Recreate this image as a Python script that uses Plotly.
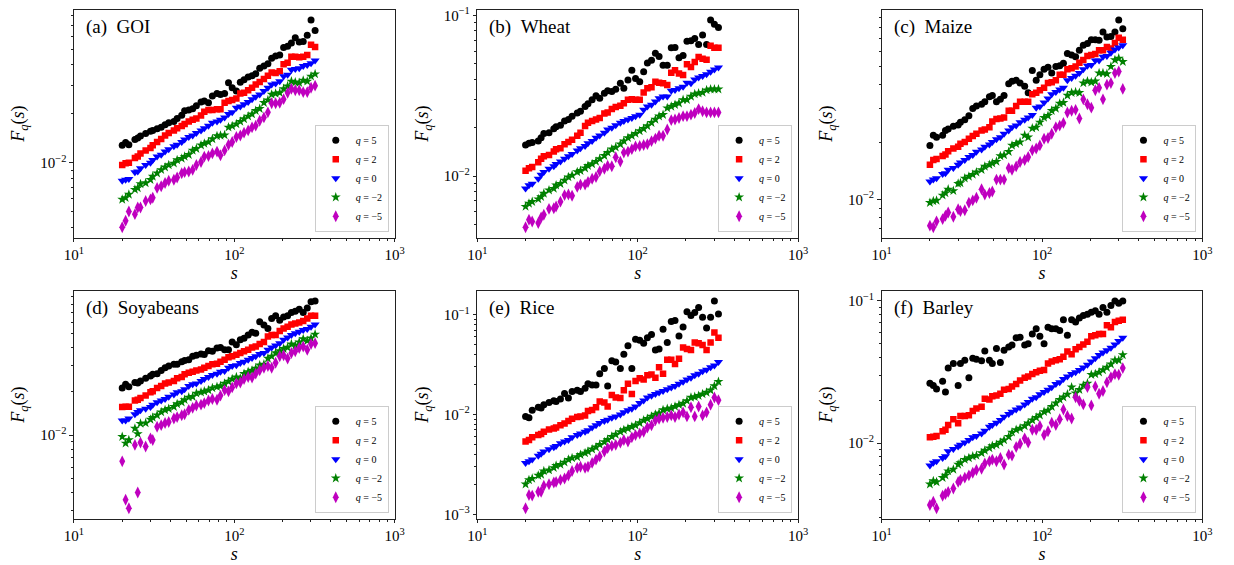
import numpy as np
import plotly.graph_objects as go

# Window sizes s (common to every commodity)
S = [20, 21, 22, 24, 25, 26, 28, 30, 31, 33, 35, 37, 39, 42, 44, 47, 49, 52, 55, 58,
     62, 65, 69, 73, 78, 82, 87, 92, 97, 103, 109, 115, 122, 129, 136, 144, 153, 162, 171, 181,
     192, 203, 215, 227, 240, 254, 269, 285, 301, 319]

# ---------------- (a) GOI ----------------
GOI_Q5 = [0.0128, 0.0133, 0.0129, 0.0139, 0.0142, 0.0146, 0.0151, 0.0156, 0.0158, 0.0162,
          0.0165, 0.0171, 0.0176, 0.0179, 0.0187, 0.0196, 0.0209, 0.0211, 0.0215, 0.0224,
          0.0236, 0.0240, 0.0234, 0.0257, 0.0267, 0.0263, 0.0267, 0.0310, 0.0289, 0.0276,
          0.0313, 0.0324, 0.0337, 0.0343, 0.0353, 0.0382, 0.0394, 0.0406, 0.0439, 0.0454,
          0.0460, 0.0512, 0.0521, 0.0546, 0.0588, 0.0554, 0.0557, 0.0608, 0.0756, 0.0652]
GOI_Q2 = [0.00968, 0.0099, 0.0100, 0.0107, 0.0109, 0.0114, 0.0119, 0.0123, 0.0128, 0.0134,
          0.0140, 0.0147, 0.0152, 0.0158, 0.0163, 0.0168, 0.0173, 0.0179, 0.0184, 0.0187,
          0.0195, 0.0206, 0.0211, 0.0211, 0.0213, 0.0213, 0.0234, 0.0240, 0.0243, 0.0248,
          0.0267, 0.0269, 0.0279, 0.0289, 0.0303, 0.0314, 0.0327, 0.0343, 0.0359, 0.0356,
          0.0365, 0.0404, 0.0413, 0.0449, 0.0449, 0.0445, 0.0449, 0.0460, 0.0533, 0.0516]
GOI_Q0 = [0.00774, 0.00785, 0.00792, 0.00874, 0.00882, 0.00924, 0.00968, 0.0100, 0.0104, 0.0109,
          0.0112, 0.0117, 0.0121, 0.0126, 0.0129, 0.0134, 0.0139, 0.0144, 0.0147, 0.0152,
          0.0158, 0.0163, 0.0169, 0.0176, 0.0179, 0.0184, 0.0190, 0.0199, 0.0204, 0.0218,
          0.0222, 0.0229, 0.0236, 0.0246, 0.0255, 0.0263, 0.0276, 0.0289, 0.0303, 0.0307,
          0.0317, 0.0340, 0.0348, 0.0373, 0.0377, 0.0382, 0.0394, 0.0400, 0.0409, 0.0425]
GOI_QM2 = [0.00594, 0.00608, 0.00637, 0.00683, 0.00699, 0.00739, 0.00750, 0.00785, 0.00822, 0.00861,
           0.00903, 0.00937, 0.00968, 0.00991, 0.0104, 0.0106, 0.0109, 0.0112, 0.0119, 0.0122,
           0.0128, 0.0131, 0.0134, 0.0140, 0.0146, 0.0147, 0.0148, 0.0165, 0.0168, 0.0173,
           0.0179, 0.0186, 0.0193, 0.0199, 0.0209, 0.0215, 0.0234, 0.0243, 0.0263, 0.0267,
           0.0269, 0.0285, 0.0296, 0.0317, 0.0313, 0.0310, 0.0321, 0.0317, 0.0340, 0.0351]
GOI_QM5 = [0.00400, 0.00439, 0.00500, 0.00482, 0.00529, 0.00529, 0.00580, 0.00594, 0.00608, 0.00699,
           0.00716, 0.00750, 0.00774, 0.00785, 0.00811, 0.00861, 0.00874, 0.00882, 0.00903, 0.00968,
           0.0101, 0.0109, 0.0110, 0.0114, 0.0117, 0.0111, 0.0119, 0.0129, 0.0134, 0.0144,
           0.0147, 0.0153, 0.0158, 0.0165, 0.0169, 0.0181, 0.0190, 0.0204, 0.0232, 0.0232,
           0.0234, 0.0246, 0.0269, 0.0285, 0.0279, 0.0279, 0.0272, 0.0272, 0.0289, 0.0298]

# ---------------- (b) Wheat ----------------
WHEAT_Q5 = [0.0156, 0.0160, 0.0162, 0.0165, 0.0173, 0.0184, 0.0186, 0.0197, 0.0203, 0.0207,
            0.0220, 0.0225, 0.0236, 0.0247, 0.0253, 0.0271, 0.0282, 0.0298, 0.0316, 0.0305,
            0.0328, 0.0340, 0.0336, 0.0347, 0.0378, 0.0352, 0.0396, 0.0455, 0.0405, 0.0386,
            0.0445, 0.0505, 0.0525, 0.0582, 0.0555, 0.0489, 0.0489, 0.0628, 0.0630, 0.0545,
            0.0563, 0.0689, 0.0695, 0.0719, 0.0658, 0.0754, 0.0658, 0.0936, 0.0881, 0.0840]
WHEAT_Q2 = [0.0108, 0.0112, 0.0114, 0.0122, 0.0128, 0.0133, 0.0135, 0.0142, 0.0147, 0.0149,
            0.0158, 0.0163, 0.0168, 0.0178, 0.0186, 0.0205, 0.0215, 0.0220, 0.0225, 0.0230,
            0.0245, 0.0249, 0.0261, 0.0269, 0.0274, 0.0284, 0.0298, 0.0301, 0.0298, 0.0298,
            0.0331, 0.0352, 0.0357, 0.0386, 0.0381, 0.0378, 0.0369, 0.0439, 0.0455, 0.0435,
            0.0425, 0.0496, 0.0477, 0.0512, 0.0550, 0.0537, 0.0530, 0.0648, 0.0628, 0.0628]
WHEAT_Q0 = [0.00836, 0.00877, 0.00897, 0.00963, 0.0102, 0.0106, 0.0111, 0.0115, 0.0119, 0.0123,
            0.0128, 0.0133, 0.0137, 0.0144, 0.0149, 0.0154, 0.0160, 0.0165, 0.0173, 0.0179,
            0.0186, 0.0195, 0.0200, 0.0207, 0.0215, 0.0220, 0.0225, 0.0230, 0.0236, 0.0241,
            0.0259, 0.0271, 0.0278, 0.0291, 0.0305, 0.0313, 0.0313, 0.0340, 0.0343, 0.0352,
            0.0360, 0.0381, 0.0378, 0.0399, 0.0411, 0.0419, 0.0430, 0.0445, 0.0460, 0.0473]
WHEAT_QM2 = [0.00646, 0.00676, 0.00693, 0.00719, 0.00743, 0.00779, 0.00817, 0.00836, 0.00877, 0.00897,
             0.00941, 0.00986, 0.0101, 0.0106, 0.0108, 0.0112, 0.0116, 0.0119, 0.0123, 0.0128,
             0.0134, 0.0140, 0.0147, 0.0151, 0.0158, 0.0165, 0.0173, 0.0178, 0.0184, 0.0191,
             0.0197, 0.0205, 0.0215, 0.0225, 0.0236, 0.0241, 0.0265, 0.0271, 0.0278, 0.0284,
             0.0298, 0.0298, 0.0313, 0.0324, 0.0328, 0.0331, 0.0343, 0.0347, 0.0347, 0.0347]
WHEAT_QM5 = [0.00480, 0.00535, 0.00522, 0.00510, 0.00552, 0.00574, 0.00625, 0.00630, 0.00646, 0.00693,
             0.00761, 0.00768, 0.00754, 0.00856, 0.00885, 0.00885, 0.00919, 0.00963, 0.00986, 0.0107,
             0.0111, 0.0116, 0.0115, 0.0131, 0.0123, 0.0140, 0.0142, 0.0147, 0.0153, 0.0154,
             0.0156, 0.0158, 0.0165, 0.0171, 0.0178, 0.0178, 0.0195, 0.0223, 0.0225, 0.0230,
             0.0236, 0.0236, 0.0241, 0.0247, 0.0261, 0.0253, 0.0249, 0.0249, 0.0249, 0.0249]

# ---------------- (c) Maize ----------------
MAIZE_Q5 = [0.0192, 0.0217, 0.0212, 0.0217, 0.0230, 0.0234, 0.0242, 0.0246, 0.0254, 0.0262,
            0.0275, 0.0300, 0.0309, 0.0316, 0.0325, 0.0346, 0.0351, 0.0325, 0.0335, 0.0351,
            0.0404, 0.0417, 0.0422, 0.0408, 0.0393, 0.0363, 0.0475, 0.0422, 0.0451, 0.0482,
            0.0494, 0.0460, 0.0498, 0.0502, 0.0518, 0.0583, 0.0572, 0.0561, 0.0607, 0.0644,
            0.0657, 0.0689, 0.0689, 0.0685, 0.0755, 0.0711, 0.0716, 0.0755, 0.0874, 0.0785]
MAIZE_Q2 = [0.0152, 0.0161, 0.0163, 0.0169, 0.0172, 0.0179, 0.0185, 0.0189, 0.0196, 0.0200,
            0.0208, 0.0215, 0.0221, 0.0230, 0.0233, 0.0239, 0.0256, 0.0264, 0.0266, 0.0269,
            0.0292, 0.0292, 0.0309, 0.0325, 0.0325, 0.0325, 0.0356, 0.0363, 0.0374, 0.0385,
            0.0408, 0.0412, 0.0422, 0.0451, 0.0451, 0.0482, 0.0488, 0.0498, 0.0522, 0.0539,
            0.0565, 0.0572, 0.0579, 0.0607, 0.0607, 0.0631, 0.0620, 0.0662, 0.0706, 0.0689]
MAIZE_Q0 = [0.0124, 0.0127, 0.0129, 0.0136, 0.0137, 0.0143, 0.0146, 0.0152, 0.0156, 0.0161,
            0.0167, 0.0171, 0.0178, 0.0183, 0.0189, 0.0194, 0.0200, 0.0207, 0.0212, 0.0221,
            0.0230, 0.0239, 0.0244, 0.0254, 0.0262, 0.0269, 0.0277, 0.0303, 0.0307, 0.0322,
            0.0338, 0.0356, 0.0366, 0.0377, 0.0385, 0.0422, 0.0433, 0.0446, 0.0460, 0.0482,
            0.0502, 0.0508, 0.0535, 0.0535, 0.0561, 0.0565, 0.0588, 0.0612, 0.0626, 0.0644]
MAIZE_QM2 = [0.00961, 0.00980, 0.00988, 0.0105, 0.0108, 0.0113, 0.0111, 0.0121, 0.0122, 0.0129,
             0.0132, 0.0135, 0.0139, 0.0143, 0.0149, 0.0152, 0.0155, 0.0158, 0.0169, 0.0171,
             0.0178, 0.0192, 0.0196, 0.0200, 0.0217, 0.0212, 0.0236, 0.0239, 0.0254, 0.0269,
             0.0275, 0.0292, 0.0300, 0.0319, 0.0322, 0.0351, 0.0363, 0.0366, 0.0363, 0.0408,
             0.0417, 0.0412, 0.0417, 0.0460, 0.0460, 0.0456, 0.0498, 0.0539, 0.0550, 0.0528]
MAIZE_QM5 = [0.00728, 0.00714, 0.00767, 0.00788, 0.00820, 0.00853, 0.00811, 0.00888, 0.00870, 0.00877,
             0.00961, 0.00988, 0.0102, 0.0113, 0.0106, 0.0108, 0.0110, 0.0127, 0.0127, 0.0127,
             0.0146, 0.0143, 0.0149, 0.0157, 0.0161, 0.0167, 0.0181, 0.0185, 0.0192, 0.0208,
             0.0210, 0.0221, 0.0239, 0.0244, 0.0252, 0.0286, 0.0292, 0.0295, 0.0266, 0.0335,
             0.0316, 0.0303, 0.0374, 0.0385, 0.0335, 0.0400, 0.0408, 0.0460, 0.0469, 0.0380]

# ---------------- (d) Soyabeans ----------------
SOY_Q5 = [0.0211, 0.0224, 0.0215, 0.0230, 0.0228, 0.0236, 0.0246, 0.0255, 0.0262, 0.0265,
          0.0279, 0.0291, 0.0299, 0.0307, 0.0307, 0.0320, 0.0326, 0.0331, 0.0349, 0.0355,
          0.0362, 0.0359, 0.0381, 0.0378, 0.0398, 0.0402, 0.0387, 0.0387, 0.0437, 0.0419,
          0.0453, 0.0465, 0.0490, 0.0511, 0.0503, 0.0603, 0.0573, 0.0543, 0.0636, 0.0663,
          0.0619, 0.0652, 0.0663, 0.0698, 0.0713, 0.0735, 0.0698, 0.0751, 0.0828, 0.0840]
SOY_Q2 = [0.0156, 0.0157, 0.0157, 0.0173, 0.0175, 0.0180, 0.0187, 0.0197, 0.0200, 0.0211,
          0.0218, 0.0227, 0.0230, 0.0236, 0.0246, 0.0251, 0.0262, 0.0269, 0.0273, 0.0279,
          0.0283, 0.0291, 0.0299, 0.0307, 0.0310, 0.0320, 0.0331, 0.0344, 0.0349, 0.0358,
          0.0368, 0.0378, 0.0387, 0.0402, 0.0408, 0.0424, 0.0437, 0.0477, 0.0490, 0.0490,
          0.0521, 0.0543, 0.0558, 0.0579, 0.0588, 0.0597, 0.0610, 0.0636, 0.0663, 0.0663]
SOY_Q0 = [0.0126, 0.0126, 0.0130, 0.0139, 0.0144, 0.0148, 0.0152, 0.0156, 0.0162, 0.0168,
          0.0173, 0.0177, 0.0184, 0.0190, 0.0197, 0.0200, 0.0207, 0.0218, 0.0224, 0.0227,
          0.0236, 0.0243, 0.0251, 0.0259, 0.0265, 0.0273, 0.0276, 0.0291, 0.0299, 0.0303,
          0.0314, 0.0320, 0.0331, 0.0340, 0.0349, 0.0362, 0.0368, 0.0387, 0.0402, 0.0415,
          0.0430, 0.0453, 0.0470, 0.0490, 0.0503, 0.0516, 0.0530, 0.0538, 0.0558, 0.0579]
SOY_QM2 = [0.00974, 0.00878, 0.00925, 0.0111, 0.0102, 0.0120, 0.0121, 0.0128, 0.0132, 0.0137,
           0.0144, 0.0149, 0.0152, 0.0157, 0.0164, 0.0168, 0.0175, 0.0182, 0.0184, 0.0194,
           0.0197, 0.0200, 0.0204, 0.0211, 0.0215, 0.0218, 0.0227, 0.0234, 0.0243, 0.0251,
           0.0246, 0.0265, 0.0273, 0.0279, 0.0288, 0.0303, 0.0307, 0.0337, 0.0349, 0.0368,
           0.0381, 0.0394, 0.0402, 0.0424, 0.0415, 0.0437, 0.0460, 0.0446, 0.0465, 0.0495]
SOY_QM5 = [0.00659, 0.00358, 0.00313, 0.00855, 0.00402, 0.00887, 0.00833, 0.00949, 0.00925, 0.0114,
           0.0117, 0.0121, 0.0123, 0.0130, 0.0133, 0.0137, 0.0139, 0.0149, 0.0154, 0.0160,
           0.0162, 0.0166, 0.0173, 0.0177, 0.0175, 0.0187, 0.0204, 0.0200, 0.0213, 0.0227,
           0.0230, 0.0243, 0.0251, 0.0249, 0.0265, 0.0279, 0.0291, 0.0299, 0.0291, 0.0315,
           0.0349, 0.0355, 0.0337, 0.0368, 0.0378, 0.0398, 0.0408, 0.0387, 0.0424, 0.0430]

# ---------------- (e) Rice ----------------
RICE_Q5 = [0.00956, 0.00927, 0.0110, 0.0118, 0.0116, 0.0125, 0.0132, 0.0137, 0.0135, 0.0143,
           0.0162, 0.0146, 0.0170, 0.0175, 0.0170, 0.0183, 0.0203, 0.0197, 0.0197, 0.0255,
           0.0288, 0.0193, 0.0345, 0.0335, 0.0288, 0.0401, 0.0488, 0.0288, 0.0568, 0.0555,
           0.0515, 0.0585, 0.0631, 0.0443, 0.0453, 0.0712, 0.0526, 0.0853, 0.0873, 0.0612,
           0.0751, 0.107, 0.0978, 0.105, 0.118, 0.0941, 0.0734, 0.0941, 0.137, 0.1015]
RICE_Q2 = [0.00535, 0.00555, 0.00590, 0.00621, 0.00636, 0.00670, 0.00707, 0.00723, 0.00739, 0.00780,
           0.00810, 0.00860, 0.00907, 0.00942, 0.00956, 0.00978, 0.0108, 0.0111, 0.0118, 0.0135,
           0.0132, 0.0120, 0.0157, 0.0148, 0.0146, 0.0175, 0.0203, 0.0160, 0.0216, 0.0230,
           0.0224, 0.0247, 0.0251, 0.0233, 0.0297, 0.0255, 0.0353, 0.0353, 0.0320, 0.0361,
           0.0467, 0.0453, 0.0443, 0.0526, 0.0515, 0.0495, 0.0443, 0.0526, 0.0660, 0.0585]
RICE_Q0 = [0.00327, 0.00340, 0.00353, 0.00386, 0.00404, 0.00426, 0.00449, 0.00470, 0.00484, 0.00515,
           0.00535, 0.00555, 0.00590, 0.00621, 0.00645, 0.00670, 0.00696, 0.00739, 0.00780, 0.00822,
           0.00860, 0.00886, 0.00927, 0.00956, 0.0100, 0.0105, 0.0110, 0.0114, 0.0120, 0.0130,
           0.0138, 0.0148, 0.0154, 0.0160, 0.0166, 0.0172, 0.0179, 0.0186, 0.0193, 0.0203,
           0.0213, 0.0224, 0.0233, 0.0247, 0.0255, 0.0271, 0.0281, 0.0297, 0.0310, 0.0335]
RICE_QM2 = [0.00200, 0.00221, 0.00228, 0.00245, 0.00251, 0.00271, 0.00277, 0.00292, 0.00308, 0.00315,
            0.00332, 0.00353, 0.00366, 0.00375, 0.00395, 0.00410, 0.00426, 0.00449, 0.00470, 0.00500,
            0.00530, 0.00560, 0.00600, 0.00630, 0.00670, 0.00700, 0.00725, 0.00755, 0.00780, 0.00822,
            0.00873, 0.00907, 0.00956, 0.0100, 0.0103, 0.0111, 0.0114, 0.0116, 0.0120, 0.0125,
            0.0129, 0.0137, 0.0148, 0.0150, 0.0154, 0.0160, 0.0166, 0.0175, 0.0193, 0.0213]
RICE_QM5 = [0.00115, 0.00156, 0.00154, 0.00168, 0.00168, 0.00193, 0.00200, 0.00208, 0.00211, 0.00221,
            0.00228, 0.00245, 0.00271, 0.00292, 0.00299, 0.00292, 0.00299, 0.00327, 0.00353, 0.00380,
            0.00426, 0.00460, 0.00484, 0.00496, 0.00522, 0.00555, 0.00535, 0.00590, 0.00621, 0.00645,
            0.00670, 0.00739, 0.00780, 0.00873, 0.00907, 0.00927, 0.00942, 0.00978, 0.00942, 0.0100,
            0.0105, 0.00956, 0.0118, 0.00956, 0.0120, 0.00978, 0.0105, 0.0125, 0.0148, 0.0139]

# ---------------- (f) Barley ----------------
BARLEY_Q5 = [0.0263, 0.0254, 0.0240, 0.0272, 0.0228, 0.0336, 0.0362, 0.0254, 0.0362, 0.0382,
             0.0287, 0.0394, 0.0388, 0.0378, 0.0443, 0.0382, 0.0362, 0.0462, 0.0368, 0.0448,
             0.0472, 0.0488, 0.0548, 0.0554, 0.0488, 0.0498, 0.0584, 0.0636, 0.0563, 0.0498,
             0.0650, 0.0636, 0.0636, 0.0617, 0.0735, 0.0572, 0.0735, 0.0708, 0.0754, 0.0787,
             0.0804, 0.0830, 0.0848, 0.0804, 0.0894, 0.0830, 0.0923, 0.0995, 0.0958, 0.0995]
BARLEY_Q2 = [0.0110, 0.0111, 0.0112, 0.0121, 0.0124, 0.0134, 0.0147, 0.0138, 0.0155, 0.0155,
             0.0157, 0.0168, 0.0175, 0.0180, 0.0205, 0.0202, 0.0213, 0.0216, 0.0222, 0.0237,
             0.0240, 0.0250, 0.0260, 0.0275, 0.0287, 0.0293, 0.0305, 0.0314, 0.0322, 0.0326,
             0.0362, 0.0374, 0.0382, 0.0388, 0.0403, 0.0439, 0.0420, 0.0455, 0.0472, 0.0493,
             0.0514, 0.0563, 0.0572, 0.0584, 0.0584, 0.0671, 0.0650, 0.0708, 0.0723, 0.0735]
BARLEY_Q0 = [0.00697, 0.00727, 0.00746, 0.00787, 0.00808, 0.00876, 0.00909, 0.00948, 0.00974, 0.0101,
             0.0105, 0.0110, 0.0112, 0.0117, 0.0122, 0.0130, 0.0134, 0.0139, 0.0145, 0.0153,
             0.0160, 0.0166, 0.0172, 0.0178, 0.0187, 0.0194, 0.0205, 0.0210, 0.0220, 0.0228,
             0.0237, 0.0247, 0.0260, 0.0267, 0.0282, 0.0293, 0.0305, 0.0314, 0.0326, 0.0340,
             0.0355, 0.0374, 0.0394, 0.0416, 0.0432, 0.0448, 0.0467, 0.0493, 0.0520, 0.0548]
BARLEY_QM2 = [0.00515, 0.00543, 0.00534, 0.00572, 0.00594, 0.00636, 0.00654, 0.00708, 0.00727, 0.00766,
              0.00787, 0.00808, 0.00817, 0.00853, 0.00889, 0.00923, 0.00958, 0.00974, 0.0101, 0.0105,
              0.0111, 0.0119, 0.0124, 0.0127, 0.0132, 0.0138, 0.0145, 0.0151, 0.0157, 0.0166,
              0.0170, 0.0180, 0.0191, 0.0202, 0.0210, 0.0220, 0.0247, 0.0224, 0.0237, 0.0254,
              0.0263, 0.0302, 0.0305, 0.0314, 0.0326, 0.0340, 0.0358, 0.0382, 0.0382, 0.0416]
BARLEY_QM5 = [0.00368, 0.00388, 0.00349, 0.00427, 0.00439, 0.00455, 0.00480, 0.00534, 0.00551, 0.00572,
              0.00594, 0.00620, 0.00647, 0.00661, 0.00719, 0.00746, 0.00766, 0.00746, 0.00787, 0.00708,
              0.00830, 0.00817, 0.00938, 0.00989, 0.0108, 0.0101, 0.0124, 0.0124, 0.0132, 0.0114,
              0.0121, 0.0139, 0.0134, 0.0147, 0.0172, 0.0155, 0.0149, 0.0210, 0.0198, 0.0187,
              0.0247, 0.0184, 0.0250, 0.0222, 0.0232, 0.0267, 0.0290, 0.0305, 0.0302, 0.0336]

PANELS = [
    ("(a)", "GOI", [GOI_Q5, GOI_Q2, GOI_Q0, GOI_QM2, GOI_QM5]),
    ("(b)", "Wheat", [WHEAT_Q5, WHEAT_Q2, WHEAT_Q0, WHEAT_QM2, WHEAT_QM5]),
    ("(c)", "Maize", [MAIZE_Q5, MAIZE_Q2, MAIZE_Q0, MAIZE_QM2, MAIZE_QM5]),
    ("(d)", "Soyabeans", [SOY_Q5, SOY_Q2, SOY_Q0, SOY_QM2, SOY_QM5]),
    ("(e)", "Rice", [RICE_Q5, RICE_Q2, RICE_Q0, RICE_QM2, RICE_QM5]),
    ("(f)", "Barley", [BARLEY_Q5, BARLEY_Q2, BARLEY_Q0, BARLEY_QM2, BARLEY_QM5]),
]

Q_LABELS = ["<i>q</i> = 5", "<i>q</i> = 2", "<i>q</i> = 0", "<i>q</i> = \u22122", "<i>q</i> = \u22125"]
SYMBOLS = ["circle", "square", "triangle-down", "star", "diamond-tall"]
COLORS = ["#000000", "#ff0000", "#0000ff", "#008000", "#bf00bf"]
SIZES = [7, 6.5, 8, 7.5, 8.5]

W, H = 1234, 565
COL_X = [(65, 391), (475, 801), (886, 1212)]
ROW_Y = [(5.7, 237), (290.7, 522)]
FONT = "Liberation Serif"
AXIS_COLOR = "#222222"


def sup(e):
    txt = str(e).replace("-", "\u2212")
    return f"10<sup>{txt}</sup>"


def log_range(series):
    vals = np.concatenate([np.asarray(v, float) for v in series])
    lo, hi = np.log10(vals.min()), np.log10(vals.max())
    pad = 0.05 * (hi - lo)
    return lo - pad, hi + pad


X_MINOR = [m * 10 ** e for e in (1, 2) for m in range(2, 10)]

fig = go.Figure()
layout = dict(
    width=W, height=H,
    margin=dict(l=0, r=0, t=0, b=0),
    paper_bgcolor="white", plot_bgcolor="white",
    font=dict(family=FONT, color="#000000"),
    showlegend=True,
)
annotations = []

for k, (tag, name, series) in enumerate(PANELS):
    r, c = divmod(k, 3)
    x0, x1 = COL_X[c]
    y0, y1 = ROW_Y[r]
    sfx = "" if k == 0 else str(k + 1)
    leg = "legend" if k == 0 else f"legend{k + 1}"

    for vals, lab, sym, col, sz in zip(series, Q_LABELS, SYMBOLS, COLORS, SIZES):
        fig.add_trace(go.Scatter(
            x=S, y=vals, mode="markers", name=lab,
            marker=dict(symbol=sym, color=col, size=sz, line=dict(width=0)),
            xaxis=f"x{sfx}", yaxis=f"y{sfx}", legend=leg,
        ))

    lo, hi = log_range(series)
    majors = [e for e in range(int(np.floor(lo)), int(np.ceil(hi)) + 1) if lo <= e <= hi]
    minors = [m * 10.0 ** e for e in range(int(np.floor(lo)) - 1, int(np.ceil(hi)) + 1)
              for m in range(2, 10) if lo <= np.log10(m * 10.0 ** e) <= hi]

    layout[f"xaxis{sfx}"] = dict(
        type="log", range=[1, 3], domain=[x0 / W, x1 / W], anchor=f"y{sfx}",
        tickmode="array", tickvals=[10, 100, 1000], ticktext=[sup(1), sup(2), sup(3)],
        ticks="outside", ticklen=3.5, tickwidth=0.8, tickcolor=AXIS_COLOR,
        minor=dict(tickmode="array", tickvals=X_MINOR, ticks="outside", ticklen=2,
                   tickwidth=0.6, tickcolor=AXIS_COLOR, showgrid=False),
        showline=True, mirror=True, linecolor=AXIS_COLOR, linewidth=1,
        showgrid=False, zeroline=False,
        tickfont=dict(family=FONT, size=15, color="#000000"),
        title=dict(text="<i>s</i>", font=dict(family=FONT, size=18), standoff=0),
    )
    layout[f"yaxis{sfx}"] = dict(
        type="log", range=[lo, hi], domain=[(H - y1) / H, (H - y0) / H], anchor=f"x{sfx}",
        tickmode="array", tickvals=[10.0 ** e for e in majors], ticktext=[sup(e) for e in majors],
        ticks="outside", ticklen=3.5, tickwidth=0.8, tickcolor=AXIS_COLOR,
        minor=dict(tickmode="array", tickvals=minors, ticks="outside", ticklen=2,
                   tickwidth=0.6, tickcolor=AXIS_COLOR, showgrid=False),
        showline=True, mirror=True, linecolor=AXIS_COLOR, linewidth=1,
        showgrid=False, zeroline=False,
        tickfont=dict(family=FONT, size=15, color="#000000"),
        title=dict(text="<i>F</i><sub><i>q</i></sub>(<i>s</i>)",
                   font=dict(family=FONT, size=18), standoff=10),
    )
    layout[leg] = dict(
        x=(x1 - 6) / W, y=(H - y1 + 6) / H, xanchor="right", yanchor="bottom",
        bgcolor="rgba(255,255,255,0.85)", bordercolor="#cccccc", borderwidth=1,
        font=dict(family=FONT, size=10, color="#000000"),
        itemwidth=30, tracegroupgap=0,
    )
    annotations.append(dict(
        text=f"{tag}\u00a0\u00a0{name}", xref=f"x{sfx} domain", yref=f"y{sfx} domain",
        x=0.031, y=0.922, xanchor="left", yanchor="middle", showarrow=False,
        font=dict(family=FONT, size=19, color="#000000"),
    ))

layout["annotations"] = annotations
fig.update_layout(**layout)
fig.write_html("out.html")
